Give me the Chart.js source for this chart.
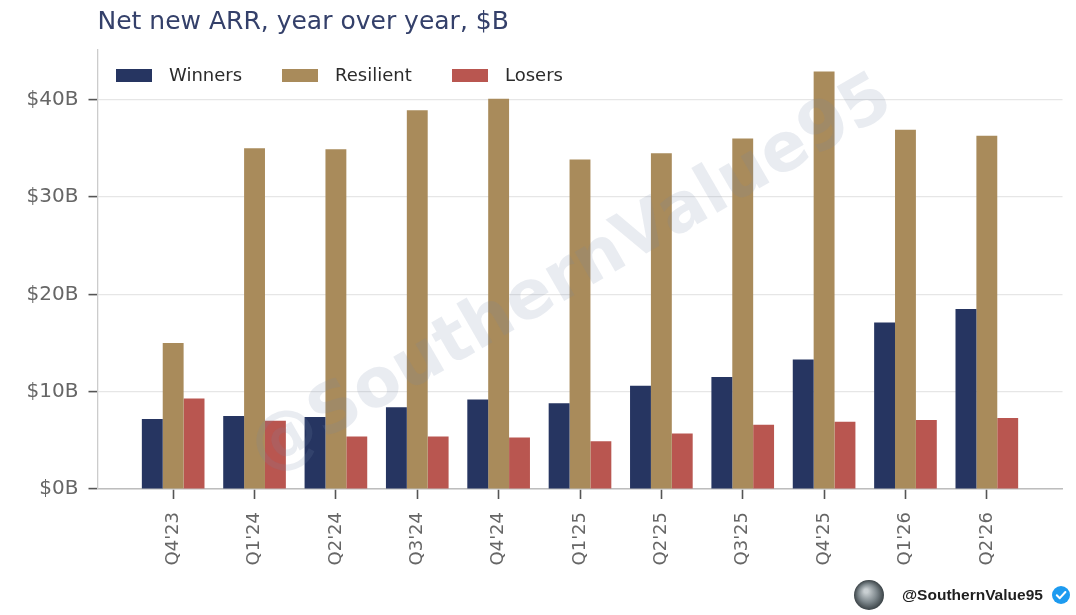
<!DOCTYPE html>
<html>
<head>
<meta charset="utf-8">
<script src="https://cdn.jsdelivr.net/npm/chart.js@4.4.1/dist/chart.umd.min.js"></script>
<style>
html,body{margin:0;padding:0;background:#fff;}
#wrap{width:1076px;height:615px;position:relative;overflow:hidden;}
canvas{display:block;}
</style>
</head>
<body>
<div id="wrap"><canvas id="c" width="1076" height="615"></canvas></div>
<script>
// ---- Data ----
const categories = ["Q4'23","Q1'24","Q2'24","Q3'24","Q4'24","Q1'25","Q2'25","Q3'25","Q4'25","Q1'26","Q2'26"];
const winners   = [7.2, 7.5, 7.4, 8.4, 9.2, 8.8, 10.6, 11.5, 13.3, 17.1, 18.5];
const resilient = [15.0, 35.0, 34.9, 38.9, 40.1, 33.85, 34.5, 36.0, 42.9, 36.9, 36.3];
const losers    = [9.3, 7.0, 5.4, 5.4, 5.3, 4.9, 5.7, 6.6, 6.9, 7.1, 7.3];
const yTicks = [0, 10, 20, 30, 40];
const seriesNames = ["Winners", "Resilient", "Losers"];
const titleText = "Net new ARR, year over year, $B";
const watermarkText = "@SouthernValue95";
const creditText = "@SouthernValue95";

// ---- Styles ----
const colors = ["#263561", "#a98b5b", "#b95650"];
const FONT = "'DejaVu Sans', sans-serif";

function toPoints(arr) { return arr.map((v, i) => ({ x: i, y: v })); }

const decor = {
  id: 'decor',
  beforeDraw(chart) {
    const ctx = chart.ctx;
    ctx.save();
    ctx.fillStyle = '#ffffff';
    ctx.fillRect(0, 0, chart.width, chart.height);
    ctx.restore();
  },
  afterDatasetsDraw(chart) {
    const ctx = chart.ctx;
    ctx.save();
    ctx.translate(572, 276);
    ctx.rotate(-30 * Math.PI / 180);
    ctx.font = "bold 68px " + FONT;
    ctx.fillStyle = 'rgba(120,135,165,0.16)';
    ctx.textAlign = 'center';
    ctx.textBaseline = 'middle';
    ctx.fillText(watermarkText, 0, 0);
    ctx.restore();
  },
  afterDraw(chart) {
    const ctx = chart.ctx;
    const area = chart.chartArea;
    ctx.save();
    // Title
    ctx.font = "25px " + FONT;
    ctx.fillStyle = '#34406a';
    ctx.textAlign = 'left';
    ctx.textBaseline = 'middle';
    ctx.fillText(titleText, area.left, 22);

    // Legend
    ctx.font = "18px " + FONT;
    ctx.textBaseline = 'middle';
    const legendX = [116, 282, 452];
    chart.data.datasets.forEach((ds, i) => {
      const x = legendX[i];
      ctx.fillStyle = ds.backgroundColor;
      ctx.fillRect(x, 69, 36, 13);
      ctx.fillStyle = '#2b2b2b';
      ctx.fillText(ds.label, x + 53, 76);
    });

    // Credit
    const cx = 869, cy = 595, r = 15;
    const g = ctx.createRadialGradient(cx - 3, cy - 4, 2, cx, cy, r);
    g.addColorStop(0, '#c9cfd2');
    g.addColorStop(0.55, '#7d878c');
    g.addColorStop(1, '#3b4347');
    ctx.beginPath();
    ctx.arc(cx, cy, r, 0, Math.PI * 2);
    ctx.fillStyle = g;
    ctx.fill();

    ctx.font = "bold 15.5px 'Liberation Sans', Arial, sans-serif";
    ctx.fillStyle = '#1f1f1f';
    ctx.textAlign = 'left';
    ctx.fillText(creditText, 902, 596);

    const bx = 1061, by = 595;
    ctx.beginPath();
    ctx.arc(bx, by, 9, 0, Math.PI * 2);
    ctx.fillStyle = '#1d9bf0';
    ctx.fill();
    ctx.beginPath();
    ctx.moveTo(bx - 4.2, by + 0.2);
    ctx.lineTo(bx - 1.2, by + 3.2);
    ctx.lineTo(bx + 4.4, by - 3);
    ctx.strokeStyle = '#ffffff';
    ctx.lineWidth = 2;
    ctx.lineCap = 'round';
    ctx.lineJoin = 'round';
    ctx.stroke();
    ctx.restore();
  }
};

new Chart(document.getElementById('c'), {
  type: 'bar',
  data: {
    datasets: [
      { label: seriesNames[0], data: toPoints(winners), backgroundColor: colors[0] },
      { label: seriesNames[1], data: toPoints(resilient), backgroundColor: colors[1] },
      { label: seriesNames[2], data: toPoints(losers), backgroundColor: colors[2] }
    ]
  },
  options: {
    responsive: false,
    animation: false,
    devicePixelRatio: 1,
    layout: { padding: { top: 50, right: 13.5, left: 0, bottom: 0 } },
    datasets: { bar: { categoryPercentage: 0.77, barPercentage: 1.0, borderWidth: 0 } },
    plugins: {
      legend: { display: false },
      tooltip: { enabled: false },
      title: { display: false }
    },
    scales: {
      x: {
        type: 'linear',
        offset: false,
        min: -0.93,
        max: 10.93,
        afterBuildTicks(scale) { scale.ticks = categories.map((_, i) => ({ value: i })); },
        afterFit(scale) { scale.height = 126; },
        grid: {
          display: true,
          offset: false,
          drawOnChartArea: false,
          drawTicks: true,
          tickLength: 10,
          tickColor: '#555555',
          tickWidth: 1.6
        },
        border: { display: true, color: '#bdbdbd', width: 1.5 },
        ticks: {
          autoSkip: false,
          minRotation: 90,
          maxRotation: 90,
          padding: 13,
          color: '#666666',
          font: { family: FONT, size: 18 },
          callback: (v) => categories[v]
        }
      },
      y: {
        type: 'linear',
        min: 0,
        max: 45.1,
        afterBuildTicks(scale) { scale.ticks = yTicks.map(v => ({ value: v })); },
        afterFit(scale) { scale.width = 97.5; },
        grid: {
          color: '#e6e6e6',
          lineWidth: 1.2,
          drawTicks: true,
          tickLength: 9,
          tickColor: '#555555',
          tickWidth: 1.6
        },
        border: { display: true, color: '#cccccc', width: 1.3 },
        ticks: {
          padding: 10,
          color: '#666666',
          font: { family: FONT, size: 20 },
          callback: (v) => '$' + v + 'B'
        }
      }
    }
  },
  plugins: [decor]
});
</script>
</body>
</html>
